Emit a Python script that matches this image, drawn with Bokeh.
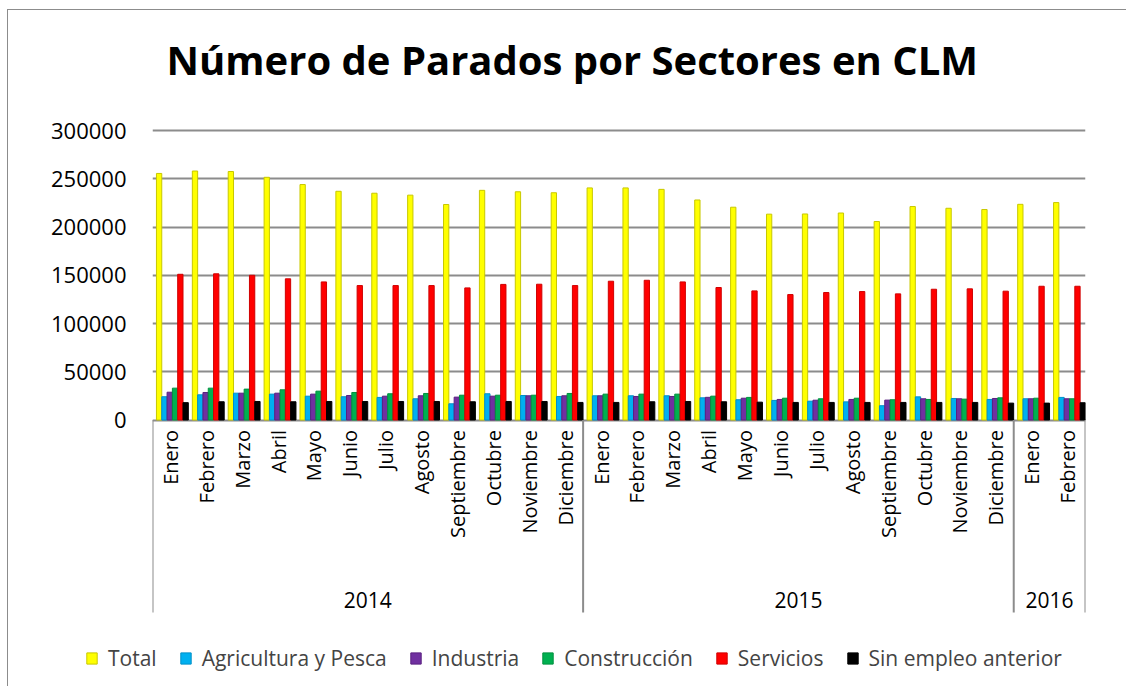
from math import pi
from bokeh.plotting import figure
from bokeh.models import (ColumnDataSource, FactorRange, Range1d, FixedTicker, NumeralTickFormatter,
                          Legend, LegendItem)
from bokeh.transform import dodge
from bokeh.core.properties import value
from bokeh.embed import file_html
from bokeh.resources import INLINE

# ---------------- data ----------------
month_names = ["Enero", "Febrero", "Marzo", "Abril", "Mayo", "Junio", "Julio",
               "Agosto", "Septiembre", "Octubre", "Noviembre", "Diciembre"]
years = ["2014"] * 12 + ["2015"] * 12 + ["2016"] * 2
months = month_names + month_names + month_names[:2]

total = [255500, 258000, 257500, 251500, 244000, 237000, 235000, 233000, 223300, 238000, 236500, 235500,
         240500, 240500, 239000, 228000, 220500, 213300, 213500, 214500, 205700, 221200, 219400, 218100,
         223500, 225300]
agricultura = [24100, 26100, 27800, 26800, 24700, 24100, 23400, 22000, 16800, 27200, 25400, 24400,
               25100, 25100, 25100, 23000, 21000, 20300, 19500, 18800, 14800, 24000, 22300, 21300,
               22000, 23400]
industria = [28800, 28500, 27800, 27800, 26800, 25400, 24700, 25100, 23700, 24700, 25100, 25100,
             25100, 24400, 24400, 23500, 22600, 21300, 20500, 21300, 20600, 22000, 22000, 22300,
             22000, 22000]
construccion = [33000, 33000, 32000, 31300, 29900, 28500, 27200, 27500, 25700, 25700, 25700, 27500,
                26800, 26800, 26800, 24700, 23400, 22600, 22000, 22600, 21000, 21300, 21600, 23000,
                22600, 22000]
servicios = [151000, 151500, 150000, 146300, 143100, 139300, 139300, 139300, 136900, 140500, 140700, 139300,
             143800, 144800, 143100, 137300, 133800, 130000, 132100, 133100, 130700, 135500, 135900, 133500,
             138600, 138600]
sin_empleo = [18000, 18900, 19200, 18900, 19200, 19200, 19200, 19200, 18900, 19200, 19200, 18200,
              18200, 18900, 19200, 18900, 18500, 18200, 18200, 18200, 18200, 18200, 18200, 17500,
              17500, 17900]

series_labels = ["Total", "Agricultura y Pesca", "Industria", "Construcción", "Servicios", "Sin empleo anterior"]
series_keys = ["total", "agricultura", "industria", "construccion", "servicios", "sin_empleo"]
y_ticks = [0, 50000, 100000, 150000, 200000, 250000, 300000]
year_labels = ["2014", "2015", "2016"]

# ---------------- styling ----------------
fill_colors = ["#FFFF00", "#00B0F0", "#7030A0", "#00B050", "#FF0000", "#000000"]
line_colors = ["#C8C800", "#0090C8", "#5A2080", "#00903F", "#D00000", "#000000"]
FONT = "Open Sans"
GRID = "#8c8c8c"

factors = list(zip(years, months))
src = ColumnDataSource(dict(x=factors, month=months, total=total, agricultura=agricultura,
                            industria=industria, construccion=construccion,
                            servicios=servicios, sin_empleo=sin_empleo))

# pixel geometry (page coords): 300000 at y=130, 0 at y=419.5, frame top 91, frame bottom 622,
# group separators end at y=612
ppu = (419.5 - 130) / y_ticks[-1]
y_end = y_ticks[-1] + (130 - 91) / ppu
y_start = -(622 - 419.5) / ppu
y_sep = -(612 - 419.5) / ppu

x_range = FactorRange(factors=factors, group_padding=0, range_padding=0)

p = figure(width=1119, height=613, x_range=x_range, y_range=Range1d(y_start, y_end),
           output_backend="svg", toolbar_location=None, x_axis_location=None,
           min_border_left=144, min_border_right=42, min_border_top=81, min_border_bottom=1,
           title="Número de Parados por Sectores en CLM")
p.styles = {"margin-left": "7px", "margin-top": "9px",
            "border-left": "1px solid #8c8c8c", "border-top": "1px solid #8c8c8c"}
p.outline_line_color = None
p.background_fill_color = "white"
p.border_fill_color = "white"

p.title.text_font = FONT
p.title.text_font_size = "40px"
p.title.text_font_style = "bold"
p.title.text_color = "black"
p.title.align = "left"
p.title.offset = 14
p.title.standoff = 10

ticker = FixedTicker(ticks=y_ticks)
p.yaxis.ticker = ticker
p.yaxis.formatter = NumeralTickFormatter(format="0")
p.yaxis.axis_line_color = None
p.yaxis.major_tick_line_color = None
p.yaxis.major_tick_out = 0
p.yaxis.major_tick_in = 0
p.yaxis.minor_tick_line_color = None
p.yaxis.major_label_standoff = 26
p.yaxis.major_label_text_font = FONT
p.yaxis.major_label_text_font_size = "22px"
p.yaxis.major_label_text_color = "black"
p.ygrid.ticker = ticker
p.ygrid.grid_line_color = GRID
p.ygrid.grid_line_width = 2
p.xgrid.visible = False

w = 0.148
shift = 0.054
for i, key in enumerate(series_keys):
    off = (i - 2.5) * w + shift
    p.vbar(x=dodge("x", off, range=x_range), top=key, width=w, bottom=0, source=src,
           fill_color=fill_colors[i], line_color=line_colors[i], line_width=1)

# month labels
p.text(x="x", y=0, text="month", source=src, angle=pi / 2, text_align="right",
       text_baseline="middle", y_offset=10, text_font=value(FONT), text_font_size="20px",
       text_color="black")

# year labels
ysrc = ColumnDataSource(dict(x=year_labels, text=year_labels))
p.text(x="x", y=0, text="text", source=ysrc, text_align="center", text_baseline="middle",
       y_offset=180, text_font=value(FONT), text_font_size="21px", text_color="black")

# group separators
sep_x = [("2014", "Enero", -0.5), ("2015", "Enero", -0.5), ("2016", "Enero", -0.5), ("2016", "Febrero", 0.5)]
ssrc = ColumnDataSource(dict(x=sep_x))
p.segment(x0="x", y0=0, x1="x", y1=y_sep, source=ssrc, line_color=GRID, line_width=2)

# ---------------- legend strip (legend entries for the same series) ----------------
lf = figure(width=1119, height=64, x_range=x_range, y_range=Range1d(0, 1),
            output_backend="svg", toolbar_location=None, x_axis_location=None, y_axis_location=None,
            min_border_left=0, min_border_right=0, min_border_top=0, min_border_bottom=0)
lf.styles = {"margin-left": "7px", "border-left": "1px solid #8c8c8c"}
lf.outline_line_color = None
lf.background_fill_color = "white"
lf.border_fill_color = "white"
lf.xgrid.visible = False
lf.ygrid.visible = False
items = []
for i, (key, lab) in enumerate(zip(series_keys, series_labels)):
    off = (i - 2.5) * w + shift
    r = lf.vbar(x=dodge("x", off, range=x_range), top=key, width=w, bottom=0, source=src,
                fill_color=fill_colors[i], line_color=line_colors[i], line_width=1)
    r.visible = False
    items.append(LegendItem(label=lab, renderers=[r]))

lg = Legend(items=items, orientation="horizontal", location=(77, 14), padding=0, margin=0,
            spacing=22, glyph_width=13, glyph_height=14, label_standoff=10,
            label_text_font=FONT, label_text_font_size="21px",
            background_fill_alpha=0, border_line_color=None,
            inactive_fill_alpha=0)
lf.add_layout(lg, "center")

open("out.html", "w").write(file_html([p, lf], INLINE))
